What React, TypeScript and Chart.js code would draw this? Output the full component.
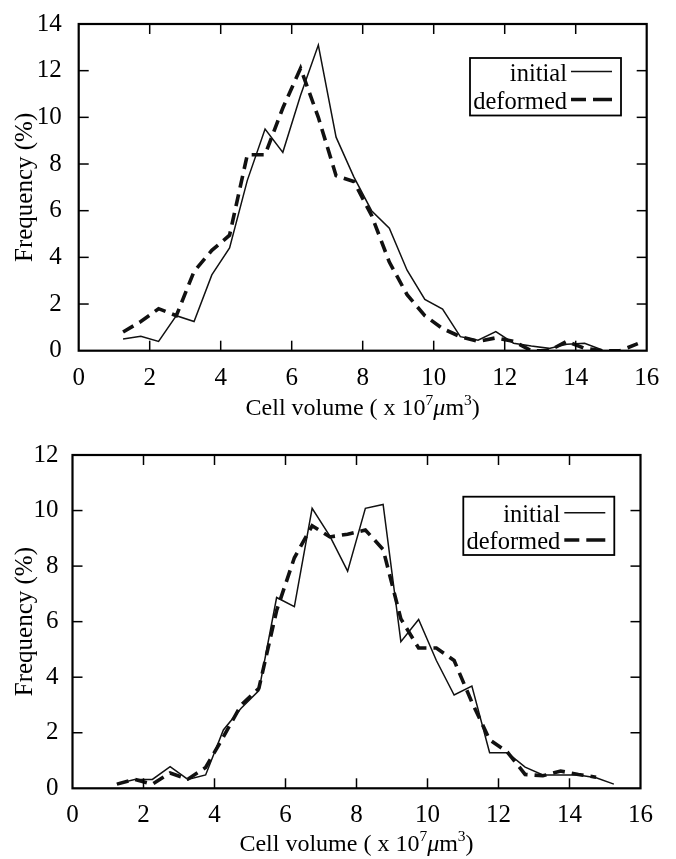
import React, { useEffect, useRef } from "react";
import { Chart, registerables } from "chart.js";

Chart.register(...registerables);

// ---------- data ----------
const binCenters = [1.25, 1.75, 2.25, 2.75, 3.25, 3.75, 4.25, 4.75, 5.25, 5.75, 6.25, 6.75, 7.25, 7.75, 8.25, 8.75, 9.25, 9.75, 10.25, 10.75, 11.25, 11.75, 12.25, 12.75, 13.25, 13.75, 14.25, 14.75, 15.25, 15.75];

const topInitial = [0.5, 0.62, 0.4, 1.5, 1.25, 3.25, 4.4, 7.3, 9.5, 8.5, 10.95, 13.1, 9.15, 7.45, 6.0, 5.25, 3.45, 2.2, 1.78, 0.6, 0.45, 0.82, 0.32, 0.2, 0.1, 0.28, 0.32, 0.03];
const topDeformed = [0.8, 1.25, 1.8, 1.5, 3.4, 4.3, 4.95, 8.4, 8.4, 10.4, 12.1, 10.0, 7.5, 7.25, 5.8, 3.8, 2.4, 1.5, 0.95, 0.6, 0.4, 0.55, 0.4, 0.0, 0.0, 0.4, 0.1, 0.0, 0.0, 0.3];

const bottomInitial = [0.16, 0.32, 0.32, 0.78, 0.32, 0.48, 2.1, 2.88, 3.52, 6.87, 6.54, 10.08, 9.08, 7.82, 10.08, 10.22, 5.28, 6.08, 4.6, 3.36, 3.68, 1.28, 1.28, 0.76, 0.48, 0.48, 0.48, 0.38, 0.15];
const bottomDeformed = [0.15, 0.32, 0.15, 0.55, 0.33, 0.75, 1.85, 3.0, 3.6, 6.4, 8.3, 9.45, 9.05, 9.15, 9.3, 8.6, 6.1, 5.05, 5.05, 4.6, 3.1, 1.75, 1.3, 0.5, 0.45, 0.62, 0.5, 0.4];

const xTicks = [0, 2, 4, 6, 8, 10, 12, 14, 16];
const topYTicks = [0, 2, 4, 6, 8, 10, 12, 14];
const bottomYTicks = [0, 2, 4, 6, 8, 10, 12];

const seriesLabels = ["initial", "deformed"];
const yTitle = "Frequency (%)";
const xTitleParts = ["Cell volume ( x 10", "7", "\u03BC", "m", "3", ")"];

const FONT = "'Liberation Serif', 'Times New Roman', serif";

function pts(xs: number[], ys: number[]) {
  return ys.map((y, i) => ({ x: xs[i], y }));
}

const framePlugin = {
  id: "frame",
  afterDraw(chart: any) {
    const o = chart.options.plugins.frame;
    const { ctx, chartArea: a, scales } = chart;
    ctx.save();
    ctx.strokeStyle = "#000";
    ctx.lineWidth = 1.5;
    const tl = 10;
    const line = (x1: number, y1: number, x2: number, y2: number) => {
      ctx.beginPath();
      ctx.moveTo(x1, y1);
      ctx.lineTo(x2, y2);
      ctx.stroke();
    };
    for (const v of o.xTicks) {
      const p = scales.x.getPixelForValue(v);
      if (p <= a.left + 1 || p >= a.right - 1) continue;
      line(p, a.bottom, p, a.bottom - tl);
      line(p, a.top, p, a.top + tl);
    }
    for (const v of o.yTicks) {
      const p = scales.y.getPixelForValue(v);
      if (p <= a.top + 1 || p >= a.bottom - 1) continue;
      line(a.left, p, a.left + tl, p);
      line(a.right, p, a.right - tl, p);
    }
    ctx.lineWidth = 2.2;
    ctx.strokeRect(a.left, a.top, a.right - a.left, a.bottom - a.top);

    // legend
    const L = o.legend;
    const bx = a.right - L.rightGap - L.w;
    const by = a.top + L.topGap;
    ctx.lineWidth = 1.8;
    ctx.strokeRect(bx, by, L.w, L.h);
    ctx.font = `24.5px ${FONT}`;
    ctx.fillStyle = "#000";
    ctx.textAlign = "right";
    ctx.textBaseline = "alphabetic";
    chart.data.datasets.forEach((ds: any, i: number) => {
      const ly = by + L.rows[i];
      ctx.fillText(ds.label, bx + L.w - 54, ly + 9);
      ctx.save();
      ctx.strokeStyle = ds.borderColor;
      ctx.lineWidth = ds.borderWidth;
      ctx.setLineDash(ds.borderDash ? [15, 7, 40] : []);
      ctx.lineDashOffset = 0;
      line(bx + L.w - 50, ly, bx + L.w - 9, ly);
      ctx.restore();
    });

    // x title with superscripts
    const cx = (a.left + a.right) / 2;
    const base = a.bottom + o.xTitleGap;
    const big = `24px ${FONT}`;
    const small = `15.5px ${FONT}`;
    const ital = `italic 24px ${FONT}`;
    const fonts = [big, small, ital, big, small, big];
    const rise = [0, -10, 0, 0, -10, 0];
    let total = 0;
    const widths = xTitleParts.map((t, i) => {
      ctx.font = fonts[i];
      const w = ctx.measureText(t).width;
      total += w;
      return w;
    });
    let x = cx - total / 2;
    ctx.textAlign = "left";
    xTitleParts.forEach((t, i) => {
      ctx.font = fonts[i];
      ctx.fillText(t, x, base + rise[i]);
      x += widths[i];
    });

    // y title
    ctx.save();
    ctx.translate(o.yTitleX, (a.top + a.bottom) / 2);
    ctx.rotate(-Math.PI / 2);
    ctx.font = `25px ${FONT}`;
    ctx.textAlign = "center";
    ctx.textBaseline = "middle";
    ctx.fillText(yTitle, 0, 0);
    ctx.restore();

    ctx.restore();
  },
};

type PanelProps = {
  initial: number[];
  deformed: number[];
  yTicks: number[];
  yMax: number;
  top: number;
  height: number;
  padTop: number;
  padRight: number;
  yAxisW: number;
  xAxisH: number;
  xTickPad: number;
  yTickPad: number;
  legend: any;
  xTitleGap: number;
};

function Panel(p: PanelProps) {
  const ref = useRef<HTMLCanvasElement | null>(null);
  useEffect(() => {
    if (!ref.current) return;
    const chart = new Chart(ref.current, {
      type: "line",
      data: {
        datasets: [
          {
            label: seriesLabels[0],
            data: pts(binCenters, p.initial),
            borderColor: "#111",
            borderWidth: 1.5,
            pointRadius: 0,
            tension: 0,
            fill: false,
          },
          {
            label: seriesLabels[1],
            data: pts(binCenters, p.deformed),
            borderColor: "#111",
            borderWidth: 3.6,
            borderDash: [12, 7],
            pointRadius: 0,
            tension: 0,
            fill: false,
          },
        ],
      },
      options: {
        animation: false,
        responsive: false,
        devicePixelRatio: 1,
        layout: { padding: { top: p.padTop, right: p.padRight, left: 0, bottom: 0 } },
        plugins: {
          legend: { display: false },
          tooltip: { enabled: false },
          frame: {
            xTicks,
            yTicks: p.yTicks,
            legend: p.legend,
            xTitleGap: p.xTitleGap,
            yTitleX: 25,
          },
        } as any,
        scales: {
          x: {
            type: "linear",
            min: 0,
            max: 16,
            grid: { display: false },
            border: { display: false },
            ticks: { color: "#000", font: { family: FONT, size: 25 }, padding: p.xTickPad, maxRotation: 0, autoSkip: false },
            afterBuildTicks: (s: any) => {
              s.ticks = xTicks.map((v) => ({ value: v }));
            },
            afterFit: (s: any) => {
              s.height = p.xAxisH;
            },
          },
          y: {
            type: "linear",
            min: 0,
            max: p.yMax,
            grid: { display: false },
            border: { display: false },
            ticks: { color: "#000", font: { family: FONT, size: 25 }, padding: p.yTickPad, autoSkip: false },
            afterBuildTicks: (s: any) => {
              s.ticks = p.yTicks.map((v) => ({ value: v }));
            },
            afterFit: (s: any) => {
              s.width = p.yAxisW;
            },
          },
        },
      },
      plugins: [framePlugin],
    } as any);
    return () => chart.destroy();
  }, []);
  return (
    <canvas
      ref={ref}
      width={676}
      height={p.height}
      style={{ position: "absolute", left: 0, top: p.top, width: 676, height: p.height }}
    />
  );
}

export default function App() {
  return (
    <div style={{ position: "absolute", left: 0, top: 0, width: 676, height: 859, background: "#fff" }}>
      <Panel
        initial={topInitial}
        deformed={topDeformed}
        yTicks={topYTicks}
        yMax={14}
        top={0}
        height={425}
        padTop={18}
        padRight={29.3}
        yAxisW={78.7}
        xAxisH={74.3}
        xTickPad={5}
        yTickPad={9}
        legend={{ w: 151, h: 57.5, rightGap: 25.7, topGap: 34, rows: [13.5, 41.5] }}
        xTitleGap={64}
      />
      <Panel
        initial={bottomInitial}
        deformed={bottomDeformed}
        yTicks={bottomYTicks}
        yMax={12}
        top={430}
        height={429}
        padTop={25}
        padRight={35.5}
        yAxisW={72.5}
        xAxisH={70.7}
        xTickPad={4}
        yTickPad={6}
        legend={{ w: 151, h: 58.3, rightGap: 26.2, topGap: 41.7, rows: [16, 43.3] }}
        xTitleGap={62.5}
      />
    </div>
  );
}
